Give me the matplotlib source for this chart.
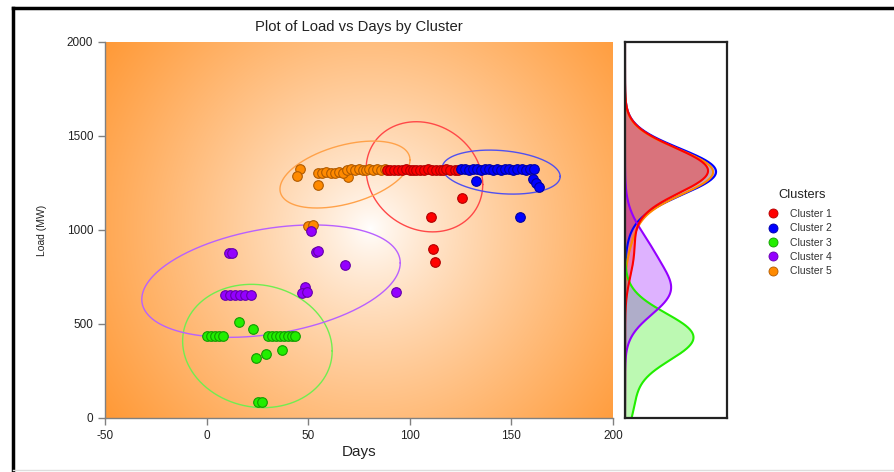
import numpy as np
import matplotlib
matplotlib.use("Agg")
import matplotlib.pyplot as plt
from matplotlib.lines import Line2D

plt.rcParams['font.family'] = ['Liberation Sans', 'DejaVu Sans']
plt.rcParams['axes.unicode_minus'] = False

# ---- data: days and load (MW) per cluster ----
c1_days = [89, 90.5, 92, 94, 96, 98, 100, 101.5, 103, 105, 107, 109, 111, 113,
           115, 116.5, 118, 120, 122, 123.5, 125.5, 110.3, 111.3, 112.3]
c1_load = [1320, 1319, 1318, 1321, 1319, 1322, 1320, 1321, 1318, 1321, 1320,
           1322, 1319, 1321, 1318, 1320, 1322, 1319, 1321, 1317,
           1172, 1067, 899, 831]

c2_days = [125, 127, 129, 131, 133, 135, 137, 139, 141, 143, 145, 147, 149,
           151, 153, 155, 157, 159, 161, 132.4, 160.8, 162.1, 163.6, 154.2]
c2_load = [1322, 1323, 1321, 1322, 1324, 1321, 1323, 1322, 1320, 1323, 1321,
           1322, 1324, 1321, 1322, 1323, 1320, 1322, 1323, 1261, 1270, 1252,
           1227, 1071]

c3_days = [0, 2, 4, 6, 8, 30, 32, 34, 36, 38, 40, 42, 43.5,
           16.1, 23, 37.3, 29.2, 24.3, 25.5, 27.5]
c3_load = [436, 437, 436, 438, 437, 436, 437, 435, 436, 438, 436, 437, 438,
           512, 472, 362, 339, 317, 83, 85]

c4_days = [9, 11.5, 14, 16.5, 19, 22, 10.8, 12.3, 53.8, 54.8, 68.1,
           48.4, 46.8, 49.3, 93.2, 51.2]
c4_load = [654, 656, 653, 655, 654, 653, 876, 877, 885, 890, 812,
           699, 663, 670, 670, 993]

c5_days = [45.9, 44.4, 55, 69.7, 50, 52.5,
           55, 57, 59, 61, 63, 65, 67,
           69, 71, 73, 75, 77, 78.5, 80, 82, 84, 86, 87.8]
c5_load = [1324, 1287, 1239, 1280, 1023, 1024,
           1305, 1304, 1306, 1305, 1303, 1306, 1305,
           1321, 1322, 1320, 1323, 1321, 1320, 1322, 1320, 1323, 1321, 1324]

cluster_names = ["Cluster 1", "Cluster 2", "Cluster 3", "Cluster 4", "Cluster 5"]
cluster_days = [c1_days, c2_days, c3_days, c4_days, c5_days]
cluster_load = [c1_load, c2_load, c3_load, c4_load, c5_load]

# cluster ellipses: centre, half-extent along each axis, tilt
ell_day = [107.2, 145.0, 25.0, 31.7, 68.1]
ell_load = [1283, 1308, 383, 728, 1295]
ell_half_day = [28.7, 29.0, 36.8, 63.6, 32.0]
ell_half_load = [293, 117, 328, 299, 178]
ell_tilt = [-0.14, -0.20, -0.08, 0.33, 0.45]

x_ticks = [-50, 0, 50, 100, 150, 200]
y_ticks = [0, 500, 1000, 1500, 2000]

# ---- styling ----
face_colors = ["#FF0000", "#0000FF", "#22EE00", "#9400FF", "#FF8A00"]
edge_colors = ["#B00000", "#0000A0", "#129A00", "#6400A8", "#B05A00"]
ring_colors = ["#FF4848", "#5050F0", "#70EE50", "#B860FF", "#FFA24A"]

W, H = 894, 472
fig = plt.figure(figsize=(W / 100, H / 100), dpi=100)
fig.patch.set_facecolor("white")

ax = fig.add_axes([105 / W, (H - 418) / H, 508 / W, 376 / H])
axd = fig.add_axes([625 / W, (H - 418) / H, 102 / W, 376 / H])

# radial white-to-orange backdrop
nx, ny = 508, 376
gx, gy = np.meshgrid(np.arange(nx), np.arange(ny))
cx, cy = 265, 186
d = np.hypot(gx - cx, gy - cy)
t = np.clip(d / 330.0, 0, 1) ** 0.8
white = np.array([255, 255, 255]) / 255
orange = np.array([255, 152, 52]) / 255
img = white[None, None, :] * (1 - t[..., None]) + orange[None, None, :] * t[..., None]
ax.imshow(img, extent=[-50, 200, 0, 2000], aspect="auto", origin="upper", zorder=0)

# ellipses
theta = np.linspace(0, 2 * np.pi, 400)
for i in range(5):
    ex = ell_day[i] + ell_half_day[i] * np.cos(theta)
    ey = ell_load[i] + ell_half_load[i] * np.sin(theta + ell_tilt[i])
    ax.plot(ex, ey, color=ring_colors[i], lw=1.0, zorder=2)

# scatter points
for i in [4, 0, 1, 2, 3]:
    ax.scatter(cluster_days[i], cluster_load[i], s=48, c=face_colors[i],
               edgecolors=edge_colors[i], linewidths=0.8, zorder=3)

ax.set_xlim(-50, 200)
ax.set_ylim(0, 2000)
ax.set_xticks(x_ticks)
ax.set_yticks(y_ticks)
for side in ["top", "right"]:
    ax.spines[side].set_visible(False)
for side in ["left", "bottom"]:
    ax.spines[side].set_color("#808080")
    ax.spines[side].set_linewidth(1.0)
ax.tick_params(colors="#808080", length=5, width=1, labelcolor="#222222", labelsize=8.5)
ax.set_xlabel("Days", fontsize=11, color="#222222", labelpad=2)
ax.set_ylabel("Load (MW)", fontsize=7.5, color="#222222", labelpad=14)
fig.text(359 / W, (H - 27) / H, "Plot of Load vs Days by Cluster", ha="center",
         va="center", fontsize=10.7, color="#222222")

# marginal density of load per cluster, scaled by cluster share
grid = np.linspace(0, 2000, 600)
bw = 120.0
n_total = sum(len(v) for v in cluster_load)
dens = []
for i in range(5):
    v = np.asarray(cluster_load[i], dtype=float)
    k = np.exp(-0.5 * ((grid[:, None] - v[None, :]) / bw) ** 2).sum(axis=1)
    dens.append(k / (n_total * bw * np.sqrt(2 * np.pi)))
order = [1, 4, 2, 3, 0]
for i in order:
    axd.fill_betweenx(grid, 0, dens[i], color=face_colors[i], alpha=0.3, lw=0)
for i in order:
    axd.plot(dens[i], grid, color=face_colors[i], lw=1.5)
axd.set_ylim(0, 2000)
axd.set_xlim(0, max(dd.max() for dd in dens) * 1.12)
axd.set_xticks([])
axd.set_yticks([])
for s in axd.spines.values():
    s.set_color("#222222")
    s.set_linewidth(1.6)

# legend
fig.text(802 / W, (H - 195) / H, "Clusters", ha="center", va="center",
         fontsize=9.3, color="#222222")
handles = [Line2D([], [], marker="o", ls="", markersize=6.5, markerfacecolor=face_colors[i],
                  markeredgecolor=edge_colors[i], markeredgewidth=0.6)
           for i in range(5)]
leg = fig.legend(handles, cluster_names, loc="upper left",
                 bbox_to_anchor=(768 / W, (H - 209) / H), frameon=False,
                 borderpad=0, borderaxespad=0,
                 fontsize=7.5, handletextpad=1.25,
                 labelspacing=0.42, handlelength=0.9)
for txt in leg.get_texts():
    txt.set_color("#333333")

# outer frame strokes
fig.add_artist(Line2D([12.5 / W, 1], [1 - 8 / H, 1 - 8 / H], color="black", lw=2.5,
                      transform=fig.transFigure))
fig.add_artist(Line2D([12.5 / W, 12.5 / W], [0, 1 - 8 / H], color="black", lw=2.5,
                      transform=fig.transFigure))
fig.add_artist(Line2D([12.5 / W, 1], [2 / H, 2 / H], color="#DDDDDD", lw=1,
                      transform=fig.transFigure))

fig.savefig("out.png", dpi=100)
